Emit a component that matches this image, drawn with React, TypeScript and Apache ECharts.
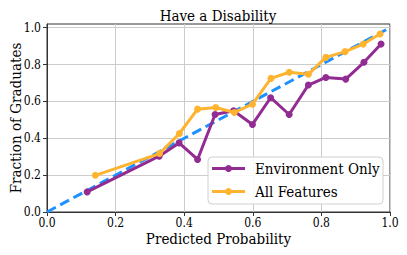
import React, { useEffect, useRef } from "react";
import * as echarts from "echarts";

const envX = [0.117, 0.327, 0.385, 0.439, 0.49, 0.544, 0.599, 0.652, 0.706, 0.762, 0.813, 0.871, 0.924, 0.974];
const envY = [0.109, 0.303, 0.375, 0.285, 0.529, 0.549, 0.475, 0.62, 0.529, 0.689, 0.73, 0.721, 0.812, 0.911];
const allX = [0.141, 0.328, 0.386, 0.439, 0.492, 0.546, 0.599, 0.653, 0.706, 0.762, 0.813, 0.869, 0.922, 0.971];
const allY = [0.199, 0.317, 0.426, 0.558, 0.567, 0.54, 0.585, 0.725, 0.758, 0.747, 0.839, 0.87, 0.911, 0.966];
const diagX = [0, 1];
const diagY = [0, 1];
const ticks = [0, 0.2, 0.4, 0.6, 0.8, 1.0];
const legendNames = ["Environment Only", "All Features"];
const colors = ["#922c92", "#ffb430"];

const FONT = "'DejaVu Serif Condensed', 'DejaVu Serif', serif";

export default function App() {
  const ref = useRef<HTMLDivElement>(null);
  useEffect(() => {
    if (!ref.current) return;
    const chart = echarts.init(ref.current, null, { renderer: "svg" });
    const fmt = (v: number) => v.toFixed(1);

    const lgX = 208;
    const lgY = 157;
    const legendGraphics: any[] = [
      {
        type: "rect",
        shape: { x: lgX, y: lgY, width: 175, height: 47, r: 4 },
        style: { fill: "rgba(255,255,255,0.85)", stroke: "#d0d0d0", lineWidth: 1 },
        z: 100,
      },
    ];
    legendNames.forEach((n, i) => {
      const cy = lgY + 11.5 + i * 23;
      legendGraphics.push(
        {
          type: "line",
          shape: { x1: lgX + 4, y1: cy, x2: lgX + 37, y2: cy },
          style: { stroke: colors[i], lineWidth: 3 },
          z: 101,
        },
        {
          type: "circle",
          shape: { cx: lgX + 20.5, cy, r: 3.5 },
          style: { fill: colors[i] },
          z: 102,
        },
        {
          type: "text",
          x: lgX + 47,
          y: cy,
          style: {
            text: n,
            fontFamily: FONT,
            fontSize: 15,
            fill: "#000",
            verticalAlign: "middle",
            align: "left",
          },
          z: 102,
        }
      );
    });

    chart.setOption({
      animation: false,
      textStyle: { fontFamily: FONT },
      title: {
        text: "Have a Disability",
        left: 213,
        textAlign: "center",
        top: 3,
        textStyle: { fontFamily: FONT, fontSize: 15, fontWeight: "normal", color: "#000" },
      },
      grid: {
        left: 47,
        right: 17,
        top: 24,
        bottom: 43,
        outerBoundsMode: "none",
        containLabel: false,
        show: true,
        borderColor: "#333",
        borderWidth: 1,
      },
      graphic: legendGraphics,
      xAxis: {
        type: "value",
        min: 0,
        max: 1,
        interval: 0.2,
        name: "Predicted Probability",
        nameLocation: "middle",
        nameGap: 19,
        nameMoveOverlap: false,
        nameTextStyle: { fontFamily: FONT, fontSize: 15, color: "#000" },
        axisLine: { show: true, lineStyle: { color: "#333", width: 1 } },
        axisTick: { show: true, length: 4, lineStyle: { color: "#333" } },
        axisLabel: { fontFamily: FONT, fontSize: 12, color: "#000", margin: 5, formatter: fmt },
        splitLine: { show: true, lineStyle: { color: "#cccccc", width: 1 } },
      },
      yAxis: {
        type: "value",
        min: 0,
        max: 1.02,
        interval: 0.2,
        name: "Fraction of Graduates",
        nameLocation: "middle",
        nameGap: 24,
        nameMoveOverlap: false,
        nameTextStyle: { fontFamily: FONT, fontSize: 15, color: "#000" },
        axisLine: { show: true, lineStyle: { color: "#333", width: 1 } },
        axisTick: { show: true, length: 4, lineStyle: { color: "#333" }, customValues: ticks },
        axisLabel: { fontFamily: FONT, fontSize: 12, color: "#000", margin: 6, formatter: fmt, customValues: ticks },
        splitLine: { show: true, lineStyle: { color: "#cccccc", width: 1 } },
      },
      series: [
        {
          name: "Perfect",
          type: "line",
          data: diagX.map((x, i) => [x, diagY[i]]),
          showSymbol: false,
          symbol: "none",
          lineStyle: { color: "#1e90ff", width: 3, type: [10, 5] },
          z: 1,
        },
        {
          name: legendNames[0],
          type: "line",
          data: envX.map((x, i) => [x, envY[i]]),
          symbol: "circle",
          symbolSize: 7,
          itemStyle: { color: colors[0] },
          lineStyle: { color: colors[0], width: 3 },
          z: 2,
        },
        {
          name: legendNames[1],
          type: "line",
          data: allX.map((x, i) => [x, allY[i]]),
          symbol: "circle",
          symbolSize: 7,
          itemStyle: { color: colors[1] },
          lineStyle: { color: colors[1], width: 3 },
          z: 3,
        },
      ],
    });
    return () => chart.dispose();
  }, []);
  return <div ref={ref} style={{ width: 407, height: 255, position: "absolute", left: 0, top: 0 }} />;
}
